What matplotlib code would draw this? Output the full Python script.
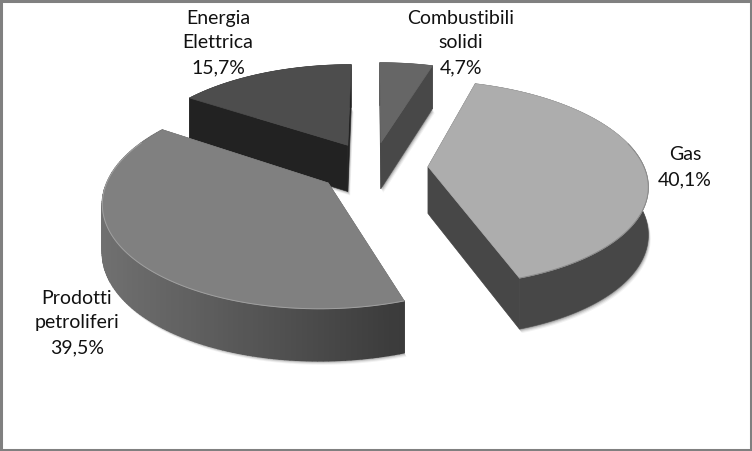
import numpy as np
import matplotlib
matplotlib.use('Agg')
import matplotlib.pyplot as plt
from matplotlib.patches import Polygon

# data
categories = ['Combustibili\nsolidi', 'Gas', 'Prodotti\npetroliferi', 'Energia\nElettrica']
values = [4.7, 40.1, 39.5, 15.7]
value_labels = ['4,7%', '40,1%', '39,5%', '15,7%']

# look of each slice, same order as above
top_colors = ['#666666', '#adadad', '#808080', '#4d4d4d']
wall_colors = ['#484848', '#474747', '#5a5a5a', '#222222']
label_pos = [(461, 43), (685, 167), (77, 323), (218, 43)]
draw_order = [3, 0, 1, 2]

# projection of the tilted pie, in pixels
cx, cy = 373, 168
R, Rb = 216, 100
explode = 0.255
persp = 0.16
depth = 47


def project(u, v, drop=0.0):
    s = 1 / (1 + persp * v)
    return np.column_stack([cx + R * u * s, cy - Rb * v * s + depth * drop * np.sqrt(s)])


def slice_points(t0, t1, n=120):
    mid = (t0 + t1) / 2
    ax_u, ax_v = explode * np.sin(mid), explode * np.cos(mid)
    t = np.linspace(t0, t1, n)
    return ax_u, ax_v, ax_u + np.sin(t), ax_v + np.cos(t)


fig = plt.figure(figsize=(7.52, 4.52), dpi=100)
ax = fig.add_axes([0, 0, 1, 1])
ax.set_xlim(0, 752)
ax.set_ylim(452, 0)
ax.axis('off')
fig.patch.set_facecolor('white')

edges = np.radians(np.cumsum([0] + values) * 3.6)

for i in draw_order:
    ax_u, ax_v, u, v = slice_points(edges[i], edges[i + 1])
    top_arc = project(u, v)
    low_arc = project(u, v, 1)
    a_top = project(np.array([ax_u]), np.array([ax_v]))
    a_low = project(np.array([ax_u]), np.array([ax_v]), 1)

    # soft shadow under the walls
    low_all = np.vstack([a_low, low_arc])
    for off, al in [(4, 0.05), (3, 0.08), (2, 0.12), (1, 0.18)]:
        ax.add_patch(Polygon(low_all + [off * 0.6, off], closed=True, fc='black', ec='none',
                             alpha=al, zorder=1))

    # cut faces
    for p_top, p_low in [(top_arc[0], low_arc[0]), (top_arc[-1], low_arc[-1])]:
        ax.add_patch(Polygon([a_top[0], p_top, p_low, a_low[0]], closed=True,
                             fc=wall_colors[i], ec=wall_colors[i], lw=0.4, zorder=2))

    # outer wall, only the big petrol slice has a visible gradient
    if i == 2:
        x_span = np.ptp(top_arc[:, 0])
        for k in range(len(u) - 1):
            f = (top_arc[k, 0] - top_arc[:, 0].min()) / x_span
            g = 0.44 - 0.21 * f
            ax.add_patch(Polygon([top_arc[k], top_arc[k + 1], low_arc[k + 1], low_arc[k]], closed=True,
                                 fc=(g, g, g), ec=(g, g, g), lw=1.0, zorder=2))
    else:
        ax.add_patch(Polygon(np.vstack([top_arc, low_arc[::-1]]), closed=True,
                             fc=wall_colors[i], ec=wall_colors[i], lw=0.4, zorder=2))

    # top of the slice
    ax.add_patch(Polygon(np.vstack([a_top, top_arc]), closed=True, fc=top_colors[i],
                         ec=top_colors[i], lw=0.5, zorder=3))
    # lit rim along the front
    front = v < 0.25
    rim = '#a0a0a0' if i == 2 else '#8a8a8a'
    if i in (1, 2):
        ax.plot(top_arc[front, 0], top_arc[front, 1], color=rim, lw=0.7, zorder=4)

# labels
for i in range(len(values)):
    x, y = label_pos[i]
    ax.text(x, y, categories[i] + '\n' + value_labels[i], ha='center', va='center',
            fontsize=14, family='Lato', color='#111111', linespacing=1.56, zorder=5)

# chart frame
ax.add_patch(Polygon([(0.5, 1.5), (750.5, 1.5), (750.5, 450.5), (0.5, 450.5)], closed=True,
                     fc='none', ec='#808080', lw=2.2, zorder=6))

fig.savefig('out.png', dpi=100)
